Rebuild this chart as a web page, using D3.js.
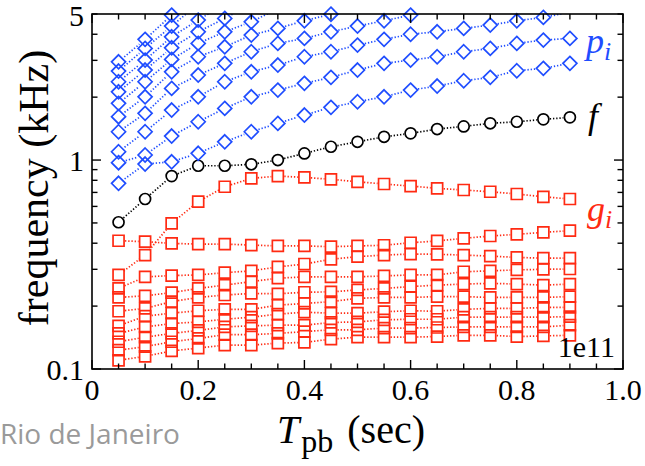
<!DOCTYPE html>
<html>
<head>
<meta charset="utf-8">
<script src="https://cdn.jsdelivr.net/npm/d3@7"></script>
<style>
body { margin: 0; background: #fff; }
</style>
</head>
<body>
<div class="box"></div>
<script>
// pulse period (sec), same for every series
const tpb = [0.05, 0.10, 0.15, 0.20, 0.25, 0.30, 0.35, 0.40, 0.45, 0.50, 0.55, 0.60, 0.65, 0.70, 0.75, 0.80, 0.85, 0.90];

// p_i (kHz) - series leave the frame at the top, last value is above 5
const p1 = [0.774, 0.957, 0.981, 1.077, 1.223, 1.366, 1.498, 1.642, 1.787, 1.901, 2.008, 2.162, 2.260, 2.396, 2.487, 2.675, 2.747, 2.902];
const p2 = [0.971, 1.057, 1.303, 1.525, 1.767, 2.008, 2.162, 2.328, 2.487, 2.696, 2.902, 3.009, 3.121, 3.298, 3.422, 3.617, 3.751, 3.822];
const p3 = [1.096, 1.366, 1.735, 2.008, 2.370, 2.645, 2.848, 3.121, 3.298, 3.549, 3.781, 4.00, 4.110, 4.267, 4.426, 4.640, 4.817, 5.10];
const p4 = [1.366, 1.673, 2.203, 2.551, 2.902, 3.298, 3.617, 3.822, 4.110, 4.377, 4.640, 4.940, 5.25];
const p5 = [1.612, 2.008, 2.645, 3.121, 3.484, 3.963, 4.267, 4.640, 4.99, 5.4];
const p6 = [1.868, 2.370, 3.032, 3.617, 4.110, 4.589, 5.3];
const p7 = [2.122, 2.696, 3.446, 4.110, 4.764, 5.6];
const p8 = [2.370, 3.009, 3.890, 4.676, 5.6];
const p9 = [2.666, 3.422, 4.377, 5.6];
const p10 = [2.953, 3.781, 4.940, 6.3];

// f (kHz)
const fVals = [0.504, 0.651, 0.838, 0.939, 0.939, 0.954, 1.000, 1.076, 1.158, 1.223, 1.292, 1.342, 1.407, 1.449, 1.499, 1.525, 1.566, 1.601];

// g_i (kHz)
const g1 = [0.282, 0.351, 0.498, 0.632, 0.745, 0.817, 0.838, 0.826, 0.809, 0.787, 0.768, 0.751, 0.732, 0.719, 0.705, 0.688, 0.667, 0.651];
const g2 = [0.411, 0.407, 0.399, 0.396, 0.396, 0.392, 0.388, 0.388, 0.385, 0.388, 0.391, 0.402, 0.410, 0.422, 0.433, 0.441, 0.451, 0.459];
const g3 = [0.243, 0.276, 0.280, 0.282, 0.289, 0.295, 0.308, 0.318, 0.335, 0.345, 0.351, 0.355, 0.354, 0.351, 0.347, 0.342, 0.339, 0.339];
const g4 = [0.220, 0.224, 0.232, 0.243, 0.252, 0.262, 0.272, 0.276, 0.276, 0.276, 0.279, 0.282, 0.282, 0.292, 0.295, 0.298, 0.300, 0.301];
const g5 = [0.189, 0.195, 0.210, 0.220, 0.226, 0.230, 0.229, 0.233, 0.234, 0.239, 0.243, 0.248, 0.252, 0.255, 0.257, 0.255, 0.252, 0.255];
const g6 = [0.161, 0.179, 0.185, 0.190, 0.193, 0.193, 0.202, 0.206, 0.210, 0.218, 0.220, 0.220, 0.222, 0.222, 0.220, 0.220, 0.220, 0.222];
const g7 = [0.148, 0.159, 0.165, 0.168, 0.173, 0.177, 0.183, 0.187, 0.185, 0.185, 0.188, 0.190, 0.189, 0.193, 0.195, 0.195, 0.197, 0.197];
const g8 = [0.135, 0.142, 0.148, 0.153, 0.159, 0.161, 0.162, 0.162, 0.167, 0.168, 0.172, 0.173, 0.173, 0.177, 0.177, 0.177, 0.177, 0.178];
const g9 = [0.123, 0.128, 0.135, 0.140, 0.146, 0.146, 0.148, 0.151, 0.154, 0.154, 0.157, 0.157, 0.158, 0.159, 0.159, 0.159, 0.159, 0.162];
const g10 = [0.110, 0.115, 0.122, 0.126, 0.130, 0.130, 0.133, 0.134, 0.139, 0.142, 0.142, 0.142, 0.143, 0.145, 0.145, 0.143, 0.144, 0.145];

const xTicks = [0, 0.2, 0.4, 0.6, 0.8, 1.0];
const xTickLabels = ['0', '0.2', '0.4', '0.6', '0.8', '1.0'];
const yTicks = [0.1, 1, 5];
const yTickLabels = ['0.1', '1', '5'];

const pSeries = [p1, p2, p3, p4, p5, p6, p7, p8, p9, p10];
const gSeries = [g1, g2, g3, g4, g5, g6, g7, g8, g9, g10];

const blue = '#1f4dff', red = '#ff2a12';
const serif = '"Liberation Serif", "DejaVu Serif", serif';

const svg = d3.select('.box')
              .append('svg')
              .attr('width', 645)
              .attr('height', 466)
              .style('font-family', serif);

// plot frame
const frame = {left: 92, right: 623, top: 14, bottom: 369};

const x = d3.scaleLinear().domain([0, 1]).range([frame.left, frame.right]);
const y = d3.scaleLog().domain([0.1, 5]).range([frame.bottom, frame.top]);

svg.append('clipPath').attr('id', 'plot')
   .append('rect')
   .attr('x', frame.left).attr('y', frame.top)
   .attr('width', frame.right - frame.left).attr('height', frame.bottom - frame.top);

const lines = svg.append('g').attr('clip-path', 'url(#plot)');
const marks = svg.append('g');

// dotted segments that stop short of each marker
function drawSeries(vals, color, gap, shape) {
    const pts = vals.map((v, i) => ({px: x(tpb[i]), py: y(v), v: v}));
    const segs = [];
    for (let i = 0; i < pts.length - 1; i++) {
        const a = pts[i], b = pts[i + 1];
        const dx = b.px - a.px, dy = b.py - a.py, len = Math.hypot(dx, dy);
        if (len <= 2 * gap) continue;
        const ux = dx / len, uy = dy / len;
        segs.push({x1: a.px + ux * gap, y1: a.py + uy * gap, x2: b.px - ux * gap, y2: b.py - uy * gap});
    }
    lines.append('g').selectAll('line')
         .data(segs)
         .enter()
         .append('line')
         .attr('x1', d => d.x1).attr('y1', d => d.y1)
         .attr('x2', d => d.x2).attr('y2', d => d.y2)
         .attr('stroke', color)
         .attr('stroke-width', 1.7)
         .attr('stroke-dasharray', '1.3,1.9');

    marks.append('g').selectAll('path')
         .data(pts.filter(d => d.v <= 5))
         .enter()
         .append('path')
         .attr('d', shape)
         .attr('transform', d => `translate(${d.px},${d.py})`)
         .attr('fill', 'none')
         .attr('stroke', color)
         .attr('stroke-width', 1.7);
}

const square = 'M-5.5,-5.5H5.5V5.5H-5.5Z';
const diamond = 'M0,-7L7,0L0,7L-7,0Z';
const circle = 'M5.5,0A5.5,5.5 0 1,1 -5.5,0A5.5,5.5 0 1,1 5.5,0Z';

gSeries.forEach(s => drawSeries(s, red, 6.5, square));
drawSeries(fVals, '#000', 6.5, circle);
pSeries.forEach(s => drawSeries(s, blue, 7.5, diamond));

// frame
svg.append('rect')
   .attr('x', frame.left).attr('y', frame.top)
   .attr('width', frame.right - frame.left).attr('height', frame.bottom - frame.top)
   .attr('fill', 'none')
   .attr('stroke', '#000')
   .attr('stroke-width', 1.6);

// inward ticks on all four sides
const ticks = svg.append('g').attr('stroke', '#000').attr('stroke-width', 1.4);
const xMinor = d3.range(0, 21).map(i => i * 0.05);
xMinor.forEach((t, i) => {
    const len = i % 4 === 0 ? 9 : 5.5;
    ticks.append('line').attr('x1', x(t)).attr('x2', x(t)).attr('y1', frame.bottom).attr('y2', frame.bottom - len);
    ticks.append('line').attr('x1', x(t)).attr('x2', x(t)).attr('y1', frame.top).attr('y2', frame.top + len);
});
y.ticks().forEach(t => {
    const major = Math.abs(Math.log10(t) - Math.round(Math.log10(t))) < 1e-6;
    const len = major ? 9 : 5.5;
    ticks.append('line').attr('y1', y(t)).attr('y2', y(t)).attr('x1', frame.left).attr('x2', frame.left + len);
    ticks.append('line').attr('y1', y(t)).attr('y2', y(t)).attr('x1', frame.right).attr('x2', frame.right - len);
});

// tick labels
svg.append('g').selectAll('text')
   .data(xTicks)
   .enter()
   .append('text')
   .attr('x', d => x(d))
   .attr('y', 400)
   .attr('text-anchor', 'middle')
   .attr('font-size', 30)
   .text((d, i) => xTickLabels[i]);

svg.append('g').selectAll('text')
   .data(yTicks)
   .enter()
   .append('text')
   .attr('x', 84)
   .attr('y', d => Math.max(y(d) + 10.5, 26))
   .attr('text-anchor', 'end')
   .attr('font-size', 30)
   .text((d, i) => yTickLabels[i]);

// axis titles
svg.append('text')
   .attr('transform', 'translate(48,188) rotate(-90)')
   .attr('text-anchor', 'middle')
   .attr('font-size', 42)
   .text('frequency (kHz)');

const xt = svg.append('text')
   .attr('x', 351).attr('y', 443)
   .attr('text-anchor', 'middle')
   .attr('font-size', 40);
xt.append('tspan').attr('font-style', 'italic').text('T');
xt.append('tspan').attr('font-size', 32).attr('dx', 2).attr('dy', 9).text('pb');
xt.append('tspan').attr('dx', 4).attr('dy', -9).text(' (sec)');

// series labels
const pl = svg.append('text').attr('x', 586).attr('y', 53).attr('font-size', 36).attr('fill', blue).attr('font-style', 'italic');
pl.append('tspan').text('p');
pl.append('tspan').attr('font-size', 26).attr('dy', 7).text('i');

svg.append('text').attr('x', 588).attr('y', 128).attr('font-size', 36).attr('font-style', 'italic').text('f');

const gl = svg.append('text').attr('x', 587).attr('y', 221).attr('font-size', 36).attr('fill', red).attr('font-style', 'italic');
gl.append('tspan').text('g');
gl.append('tspan').attr('font-size', 26).attr('dy', 7).text('i');

svg.append('text').attr('x', 615).attr('y', 357).attr('text-anchor', 'end').attr('font-size', 30).text('1e11');

// watermark
svg.append('text')
   .attr('x', 0).attr('y', 444)
   .style('font-family', '"Open Sans", sans-serif')
   .attr('font-size', 28)
   .attr('fill', '#9a9a9a')
   .text('Rio de Janeiro');
</script>
</body>
</html>
